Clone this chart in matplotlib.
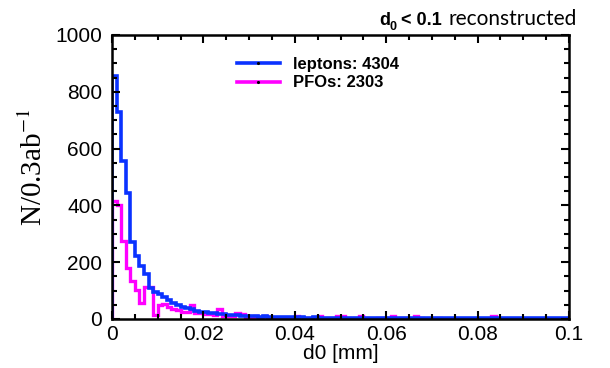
import numpy as np
import matplotlib
matplotlib.use('Agg')
import matplotlib.pyplot as plt
from matplotlib.lines import Line2D
from matplotlib.ticker import MultipleLocator

plt.rcParams['font.family'] = ['Liberation Sans', 'DejaVu Sans']
plt.rcParams['mathtext.fontset'] = 'stix'

# histogram: 100 bins of 0.001 mm between 0 and 0.1
edges = np.linspace(0, 0.1, 101)

leptons = [855, 730, 555, 445, 270, 222, 188, 160, 110, 95,
           87, 79, 67, 58, 49, 42, 40, 34, 29, 25,
           24, 20, 20, 18, 17, 15, 14, 13, 12, 10,
           11, 9, 8, 9, 7, 8, 8, 6, 7, 6,
           5, 6, 5, 5, 6, 4, 5, 4, 5, 4,
           4, 5, 4, 4, 3, 4, 4, 3, 4, 3,
           4, 3, 3, 4, 3, 3, 3, 4, 3, 3,
           3, 3, 3, 2, 3, 3, 2, 3, 3, 2,
           3, 2, 3, 2, 2, 3, 2, 2, 3, 2,
           2, 2, 3, 2, 2, 2, 2, 3, 2, 2]

pfos = [415, 402, 273, 179, 133, 102, 55, 113, 113, 14,
        49, 52, 43, 34, 30, 26, 26, 49, 22, 22,
        19, 19, 15, 34, 12, 10, 11, 20, 18, 6,
        5, 12, 4, 11, 3, 4, 3, 2, 3, 4,
        12, 3, 2, 2, 3, 11, 2, 2, 2, 10,
        9, 2, 1, 2, 11, 3, 1, 1, 2, 1,
        2, 11, 1, 2, 1, 1, 11, 2, 1, 1,
        1, 2, 1, 1, 1, 1, 1, 1, 1, 1,
        1, 1, 1, 11, 1, 1, 1, 1, 1, 1,
        1, 1, 1, 1, 1, 1, 1, 1, 1, 1]

labels = ['leptons: 4304', 'PFOs: 2303']
blue = '#0a32ff'
magenta = '#ff00ff'

fig = plt.figure(figsize=(6.1, 3.68), dpi=100)
ax = fig.add_axes([112 / 610, 49 / 368, 457 / 610, 284 / 368])

ax.stairs(pfos, edges, color=magenta, lw=2.4)
ax.stairs(leptons, edges, color=blue, lw=2.6)

ax.set_xlim(0, 0.1)
ax.set_ylim(0, 1000)
ax.xaxis.set_major_locator(MultipleLocator(0.02))
ax.xaxis.set_minor_locator(MultipleLocator(0.005))
ax.yaxis.set_major_locator(MultipleLocator(200))
ax.yaxis.set_minor_locator(MultipleLocator(50))
ax.xaxis.set_major_formatter(lambda v, p: '0' if v == 0 else ('%g' % v))
ax.tick_params(which='both', direction='in', top=True, right=True, width=1.5,
               labelsize=15)
ax.tick_params(axis='y', pad=7)
ax.tick_params(axis='x', pad=4)
ax.tick_params(which='major', length=6)
ax.tick_params(which='minor', length=3.5)
for s in ax.spines.values():
    s.set_linewidth(1.8)

ax.set_xlabel('d0 [mm]', fontsize=15, labelpad=0)
ax.set_ylabel(r'N/0.3ab$^{-1}$', fontsize=21, family='Liberation Serif')
ax.yaxis.set_label_coords(-0.14, 0.535)

handles = [Line2D([], [], color=blue, lw=2.6, marker='.', ms=2.5, mfc='k', mec='k'),
           Line2D([], [], color=magenta, lw=2.6, marker='.', ms=2.5, mfc='k', mec='k')]
ax.legend(handles, labels, loc='upper left', bbox_to_anchor=(0.24, 0.975), frameon=False,
          prop={'weight': 'bold', 'size': 12}, handlelength=2.6, handletextpad=0.8,
          labelspacing=0.2, numpoints=1)

# title: bold "d0 < 0.1" followed by "reconstructed"
t1 = fig.text(577 / 610, 1 - 25 / 368, 'reconstructed', ha='right', va='baseline',
              fontsize=15, family='Lato')
t2 = ax.annotate('< 0.1', xy=(0, 0), xycoords=t1, xytext=(-5, 0), textcoords='offset points',
                 ha='right', va='bottom', fontsize=13, weight='bold', annotation_clip=False)
t3 = ax.annotate('0', xy=(0, 0), xycoords=t2, xytext=(-3, -3), textcoords='offset points',
                 ha='right', va='bottom', fontsize=9, weight='bold', annotation_clip=False)
ax.annotate('d', xy=(0, 0), xycoords=t3, xytext=(0, 3), textcoords='offset points',
            ha='right', va='bottom', fontsize=13, weight='bold', annotation_clip=False)

fig.savefig('out.png', dpi=100)
